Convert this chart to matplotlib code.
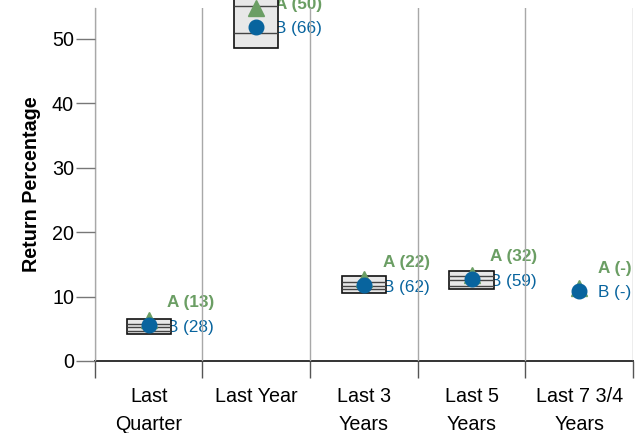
import numpy as np
import matplotlib
matplotlib.use("Agg")
import matplotlib.pyplot as plt

plt.rcParams['font.family'] = ['Liberation Sans', 'DejaVu Sans']

periods = ["Last\nQuarter", "Last Year", "Last 3\nYears", "Last 5\nYears", "Last 7 3/4\nYears"]

# percentile bands (box edges and inner lines), nan = no band
band_lo = [4.2, 48.6, 10.6, 11.2, np.nan]
band_q1 = [4.6, 50.9, 11.1, 11.7, np.nan]
band_md = [5.2, 55.1, 11.7, 12.5, np.nan]
band_q3 = [5.7, np.nan, 12.2, 13.2, np.nan]
band_hi = [6.5, 57.0, 13.2, 14.0, np.nan]

a_vals = [6.3, 54.8, 12.8, 13.4, 11.4]
b_vals = [5.6, 51.9, 11.8, 12.7, 10.9]
a_rank = ["13", "50", "22", "32", "-"]
b_rank = ["28", "66", "62", "59", "-"]

green = "#6b9e64"
blue = "#08649e"

fig = plt.figure(figsize=(6.41, 4.33), dpi=100)
ax = fig.add_axes([0.148, 0.1663, 0.8395, 0.8152])

x = np.arange(len(periods))
w = 0.41
for i in x:
    if np.isnan(band_lo[i]):
        continue
    ax.bar(i, band_hi[i] - band_lo[i], bottom=band_lo[i], width=w,
           color="#e8e8e8", edgecolor="#111111", linewidth=1.2, zorder=2,
           clip_on=False)
    for v in (band_q1[i], band_md[i], band_q3[i]):
        if not np.isnan(v):
            ax.hlines(v, i - w / 2, i + w / 2, color="#444444", linewidth=1,
                      zorder=2.5, clip_on=False)

ax.plot(x, a_vals, "^", color=green, markersize=11, zorder=4, linestyle="none",
        clip_on=False)
ax.plot(x, b_vals, "o", color=blue, markersize=10.5, zorder=5, linestyle="none",
        clip_on=False)

for i in x:
    ax.annotate("B (%s)" % b_rank[i], (i, b_vals[i]), xytext=(13.5, -1.5),
                textcoords="offset points", va="center", ha="left",
                color=blue, fontsize=12.3, annotation_clip=False, zorder=1)
    ax.annotate("A (%s)" % a_rank[i], (i, b_vals[i]), xytext=(13.5, 16),
                textcoords="offset points", va="center", ha="left",
                color=green, fontsize=12.3, fontweight="bold",
                annotation_clip=False, zorder=1)

ax.set_xlim(-0.5, len(periods) - 0.5)
ax.set_ylim(0, 54.8)

# boundaries between periods as major ticks + grid, names as minor ticks
ax.set_xticks(np.arange(len(periods) + 1) - 0.5)
ax.set_xticklabels([])
ax.set_xticks(x, minor=True)
ax.set_xticklabels(periods, minor=True, fontsize=14.2, linespacing=1.6)
ax.tick_params(axis="x", which="major", length=12, width=1, color="#555555", direction="out")
ax.tick_params(axis="x", which="minor", length=0, pad=19)
ax.xaxis.grid(True, which="major", color="#a8a8a8", linewidth=1)
ax.set_axisbelow(False)

ax.set_yticks(np.arange(0, 51, 10))
ax.tick_params(axis="y", length=14, width=1, color="#777777", labelsize=14.2, pad=1)

ax.spines["top"].set_visible(False)
ax.spines["right"].set_visible(False)
ax.spines["bottom"].set_color("#333333")
ax.spines["bottom"].set_linewidth(1.4)
ax.spines["left"].set_color("#111111")

ax.set_ylabel("Return Percentage", fontsize=14.2, fontweight="bold", labelpad=8)

fig.savefig("out.png", dpi=100)
